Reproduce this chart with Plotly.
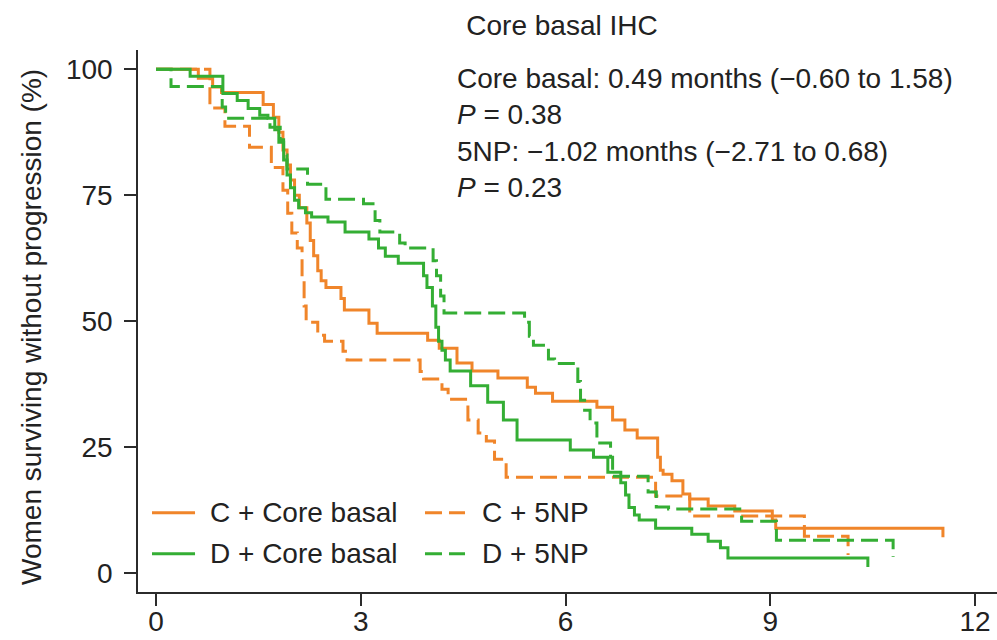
import plotly.graph_objects as go

# ---------------- data ----------------
c_core_t = [0, 0.62, 0.83, 0.96, 1.57, 1.72, 1.80, 1.86, 1.92, 1.97, 2.03, 2.10, 2.21, 2.26, 2.31,
            2.37, 2.42, 2.49, 2.71, 2.76, 3.12, 3.24, 3.98, 4.15, 4.41, 4.63, 5.01, 5.44, 5.56,
            5.81, 6.46, 6.69, 6.87, 7.05, 7.35, 7.39, 7.43, 7.56, 7.72, 7.82, 8.09, 8.48, 9.03,
            9.08, 11.53]
c_core_s = [100, 98.2, 96.5, 95.4, 93.0, 90.5, 87.5, 84.0, 81.0, 78.0, 75.0, 72.5, 69.5, 66.0, 63.0,
            60.0, 58.0, 56.7, 54.5, 52.2, 49.6, 47.6, 46.2, 44.6, 41.7, 40.1, 38.7, 36.9, 35.7,
            34.1, 32.9, 30.4, 28.4, 26.8, 23.0, 20.4, 19.6, 18.3, 15.7, 14.7, 13.3, 12.3, 10.5,
            8.9, 7.1]

c_5np_t = [0, 0.79, 1.01, 1.37, 1.69, 1.86, 1.93, 1.99, 2.07, 2.14, 2.17, 2.20, 2.37, 2.47, 2.74,
           2.80, 3.87, 3.92, 4.19, 4.28, 4.57, 4.72, 4.84, 4.96, 5.13, 7.32, 7.82, 9.50, 10.14]
c_5np_s = [100, 92.3, 88.7, 84.5, 80.5, 76.0, 71.4, 67.5, 64.5, 58.0, 53.0, 49.8, 47.2, 46.0, 44.0,
           42.3, 40.0, 38.5, 36.5, 34.5, 30.4, 27.8, 26.2, 22.6, 19.0, 15.3, 11.3, 7.3, 3.6]

d_core_t = [0, 0.50, 0.98, 1.19, 1.35, 1.52, 1.64, 1.74, 1.80, 1.87, 1.92, 1.97, 2.03, 2.09, 2.19,
            2.28, 2.52, 2.77, 3.12, 3.26, 3.36, 3.55, 3.92, 3.97, 4.05, 4.10, 4.14, 4.19, 4.24,
            4.31, 4.61, 4.86, 5.09, 5.29, 6.07, 6.41, 6.62, 6.81, 6.88, 6.93, 7.01, 7.08, 7.32,
            7.85, 8.09, 8.27, 8.38, 10.43]
d_core_s = [100, 98.6, 95.2, 93.8, 92.2, 90.9, 90.3, 88.0, 85.5, 82.0, 79.0, 76.5, 74.0, 72.5, 71.5,
            70.7, 69.7, 67.7, 66.3, 64.5, 62.9, 61.5, 59.0, 56.7, 53.0, 48.8, 46.0, 44.2, 42.3,
            40.1, 37.2, 33.9, 30.4, 26.4, 24.4, 23.0, 20.0, 17.9, 15.5, 13.0, 11.5, 10.5, 8.9,
            7.7, 6.3, 5.0, 3.0, 1.2]

d_5np_t = [0, 0.22, 0.97, 1.02, 1.67, 1.82, 1.87, 1.92, 2.22, 2.49, 3.04, 3.21, 3.28, 3.57, 3.65,
           4.06, 4.11, 4.17, 4.22, 5.40, 5.47, 5.53, 5.75, 5.84, 6.18, 6.22, 6.28, 6.36, 6.46,
           6.66, 6.69, 7.21, 7.33, 7.51, 8.58, 9.09, 10.80]
d_5np_s = [100, 96.6, 92.5, 90.3, 88.5, 86.0, 83.0, 80.2, 77.2, 74.2, 73.3, 70.0, 67.7, 65.5, 64.5,
           62.0, 59.0, 55.0, 51.6, 49.8, 47.0, 45.2, 42.5, 41.6, 38.0, 34.3, 32.3, 29.8, 25.8,
           23.0, 19.2, 16.1, 13.1, 12.7, 10.3, 6.5, 3.2]

series_names = ["C + Core basal", "C + 5NP", "D + Core basal", "D + 5NP"]
series_t = [c_core_t, c_5np_t, d_core_t, d_5np_t]
series_s = [c_core_s, c_5np_s, d_core_s, d_5np_s]

x_ticks = [0, 3, 6, 9, 12]
y_ticks = [0, 25, 50, 75, 100]

title_text = "Core basal IHC"
stats_lines = ["Core basal: 0.49 months (\u22120.60 to 1.58)",
               "<i>P</i> = 0.38",
               "5NP: \u22121.02 months (\u22122.71 to 0.68)",
               "<i>P</i> = 0.23"]
y_title = "Women surviving without progression (%)"

# ---------------- styling ----------------
ORANGE = "#F0852A"
GREEN = "#34AE34"
colors = [ORANGE, ORANGE, GREEN, GREEN]
DASHED = "17px,7px"
dashes = ["solid", DASHED, "solid", DASHED]
FONT = "Liberation Sans, Arial, Helvetica, sans-serif"
FS = 28
AX = "#2b2b2b"

fig = go.Figure()
for name, t, s, c, d in zip(series_names, series_t, series_s, colors, dashes):
    fig.add_trace(go.Scatter(x=t, y=s, mode="lines", name=name,
                             line=dict(color=c, width=3, dash=d, shape="hv"),
                             showlegend=False, hoverinfo="skip"))

# manual legend (2 x 2 grid)
leg_sample_x = [(0.0163, 0.0664), (0.3341, 0.3807)]
leg_text_x = [0.0815, 0.3981]
leg_row_y = [0.1462, 0.0706]
for i, (name, c, d) in enumerate(zip(series_names, colors, dashes)):
    row, col = i // 2, i % 2
    x0, x1 = leg_sample_x[col]
    y = leg_row_y[row]
    fig.add_shape(type="line", xref="paper", yref="paper", x0=x0, x1=x1, y0=y, y1=y,
                  line=dict(color=c, width=3, dash=d))
    fig.add_annotation(xref="paper", yref="paper", x=leg_text_x[col], y=y, text=name,
                       showarrow=False, xanchor="left", yanchor="middle",
                       font=dict(size=FS, color="#222", family=FONT))

fig.add_annotation(xref="paper", yref="paper", x=0.369, y=0.847,
                   text="<br>".join(stats_lines), align="left", showarrow=False,
                   xanchor="left", yanchor="middle",
                   font=dict(size=FS, color="#222", family=FONT))

fig.add_annotation(xref="paper", yref="paper", x=-0.1234, y=0.489, text=y_title,
                   textangle=-90, showarrow=False, xanchor="center", yanchor="middle",
                   font=dict(size=FS, color="#222", family=FONT))

fig.update_layout(
    width=997, height=640,
    margin=dict(l=138, r=0, t=50, b=48, autoexpand=False),
    paper_bgcolor="white", plot_bgcolor="white",
    title=dict(text=title_text, xref="paper", x=0.4936, xanchor="center",
               yref="container", y=0.961, yanchor="middle",
               font=dict(size=FS, color="#222", family=FONT)),
    font=dict(family=FONT, size=FS, color="#222"),
)
fig.update_xaxes(range=[-0.2637, 12.322], tickvals=x_ticks, ticks="outside", ticklen=12,
                 tickwidth=1.5, tickcolor=AX, showline=True, linecolor=AX, linewidth=1.5,
                 showgrid=False, zeroline=False, automargin=False, ticklabelstandoff=-8,
                 tickfont=dict(size=FS, color="#222"))
fig.update_yaxes(range=[-3.77, 103.83], tickvals=y_ticks, ticks="outside", ticklen=12,
                 tickwidth=1.5, tickcolor=AX, showline=True, linecolor=AX, linewidth=1.5,
                 showgrid=False, zeroline=False, automargin=False, ticklabelstandoff=6,
                 tickfont=dict(size=FS, color="#222"))

# remove the default 8px page margin so the 997x640 figure fills the window exactly
fig.write_html("out.html", config={"displayModeBar": False},
               post_script="document.body.style.margin='0';")
